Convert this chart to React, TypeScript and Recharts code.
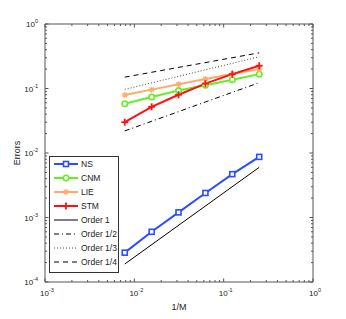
import { LineChart, Line, XAxis, YAxis } from 'recharts';

// 1/M values
const invM = [1 / 128, 1 / 64, 1 / 32, 1 / 16, 1 / 8, 1 / 4];

const nsErr = [0.000285, 0.0006, 0.0012, 0.0024, 0.0047, 0.0087];
const cnmErr = [0.058, 0.074, 0.093, 0.112, 0.137, 0.167];
const lieErr = [0.079, 0.096, 0.116, 0.14, 0.168, 0.2];
const stmErr = [0.03, 0.052, 0.08, 0.119, 0.167, 0.225];

// reference slopes, only end points
const order1 = [0.00019, 0.006];
const orderHalf = [0.022, 0.123];
const orderThird = [0.097, 0.31];
const orderQuarter = [0.15, 0.357];

const decadesX = [0.001, 0.01, 0.1, 1];
const decadesY = [0.0001, 0.001, 0.01, 0.1, 1];

const minorTicks = (decades: number[]) => {
  const out: number[] = [];
  decades.forEach((d, i) => {
    if (i === decades.length - 1) {
      out.push(d);
      return;
    }
    for (let k = 1; k < 10; k++) out.push(d * k);
  });
  return out;
};

const xTicks = minorTicks(decadesX);
const yTicks = minorTicks(decadesY);

const last = invM.length - 1;
const data = invM.map((x, i) => ({
  x,
  ns: nsErr[i],
  cnm: cnmErr[i],
  lie: lieErr[i],
  stm: stmErr[i],
  o1: i === 0 ? order1[0] : i === last ? order1[1] : null,
  o2: i === 0 ? orderHalf[0] : i === last ? orderHalf[1] : null,
  o3: i === 0 ? orderThird[0] : i === last ? orderThird[1] : null,
  o4: i === 0 ? orderQuarter[0] : i === last ? orderQuarter[1] : null,
}));

const COLORS = {
  ns: '#2b4cff',
  cnm: '#66ee22',
  lie: '#ffaa66',
  stm: '#ff1111',
};

const FONT = '"Liberation Sans", Arial, sans-serif';
const AXIS = '#555';

const isMajor = (v: number) => Math.abs(Math.log10(v) - Math.round(Math.log10(v))) < 1e-6;

const expLabel = (v: number) => Math.round(Math.log10(v));

const PowLabel = ({ x, y, v, anchor }: { x: number; y: number; v: number; anchor: 'middle' | 'end' }) => (
  <text x={x} y={y} textAnchor={anchor} fontFamily={FONT} fontSize={8} fill="#222">
    10
    <tspan dy={-4} fontSize={5.5}>
      {expLabel(v)}
    </tspan>
  </text>
);

const tickLen = (v: number) => (isMajor(v) ? 3.5 : 2);

const BottomTick = (props: any) => {
  const { x, payload } = props;
  const y = 282;
  const v = payload.value;
  return (
    <g>
      <line x1={x} y1={y} x2={x} y2={y - tickLen(v)} stroke={AXIS} />
      {isMajor(v) && <PowLabel x={x + 2} y={y + 14} v={v} anchor="middle" />}
    </g>
  );
};

const TopTick = (props: any) => {
  const { x, payload } = props;
  const y = 24;
  const v = payload.value;
  return <line x1={x} y1={y} x2={x} y2={y + tickLen(v)} stroke={AXIS} />;
};

const LeftTick = (props: any) => {
  const { y, payload } = props;
  const x = 45;
  const v = payload.value;
  return (
    <g>
      <line x1={x} y1={y} x2={x + tickLen(v)} y2={y} stroke={AXIS} />
      {isMajor(v) && <PowLabel x={x - 7} y={y + 3} v={v} anchor="end" />}
    </g>
  );
};

const RightTick = (props: any) => {
  const { y, payload } = props;
  const x = 313;
  const v = payload.value;
  return <line x1={x} y1={y} x2={x - tickLen(v)} y2={y} stroke={AXIS} />;
};

const SquareDot = (props: any) => {
  const { cx, cy, index } = props;
  if (cx == null || cy == null) return <g key={`s${index}`} />;
  return (
    <rect key={`s${index}`} x={cx - 2.5} y={cy - 2.5} width={5} height={5} fill="#fff" stroke={COLORS.ns} strokeWidth={1.6} />
  );
};

const CircleDot = (props: any) => {
  const { cx, cy, index } = props;
  if (cx == null || cy == null) return <g key={`c${index}`} />;
  return <circle key={`c${index}`} cx={cx} cy={cy} r={2.7} fill="#fff" stroke={COLORS.cnm} strokeWidth={1.6} />;
};

const StarDot = (props: any) => {
  const { cx, cy, index } = props;
  if (cx == null || cy == null) return <g key={`a${index}`} />;
  const r = 3;
  return (
    <g key={`a${index}`} stroke={COLORS.lie} strokeWidth={1.2}>
      <line x1={cx - r} y1={cy} x2={cx + r} y2={cy} />
      <line x1={cx} y1={cy - r} x2={cx} y2={cy + r} />
      <line x1={cx - r * 0.7} y1={cy - r * 0.7} x2={cx + r * 0.7} y2={cy + r * 0.7} />
      <line x1={cx - r * 0.7} y1={cy + r * 0.7} x2={cx + r * 0.7} y2={cy - r * 0.7} />
    </g>
  );
};

const PlusDot = (props: any) => {
  const { cx, cy, index } = props;
  if (cx == null || cy == null) return <g key={`p${index}`} />;
  const r = 3.5;
  return (
    <g key={`p${index}`} stroke={COLORS.stm} strokeWidth={1.8}>
      <line x1={cx - r} y1={cy} x2={cx + r} y2={cy} />
      <line x1={cx} y1={cy - r} x2={cx} y2={cy + r} />
    </g>
  );
};

const legendItems = [
  { name: 'NS', color: COLORS.ns, width: 2, dash: undefined, marker: 'square' },
  { name: 'CNM', color: COLORS.cnm, width: 2, dash: undefined, marker: 'circle' },
  { name: 'LIE', color: COLORS.lie, width: 2, dash: undefined, marker: 'star' },
  { name: 'STM', color: COLORS.stm, width: 2, dash: undefined, marker: 'plus' },
  { name: 'Order 1', color: '#000', width: 1, dash: undefined, marker: '' },
  { name: 'Order 1/2', color: '#000', width: 1, dash: '5 3 1 3', marker: '' },
  { name: 'Order 1/3', color: '#444', width: 1, dash: '1 2', marker: '' },
  { name: 'Order 1/4', color: '#000', width: 1, dash: '5 4', marker: '' },
];

const LegendBox = () => (
  <div
    style={{
      position: 'absolute',
      left: 49,
      top: 156,
      width: 70,
      height: 117,
      border: '1px solid #333',
      background: '#fff',
      boxSizing: 'border-box',
    }}
  >
    <svg width={70} height={117} style={{ position: 'absolute', left: -1, top: -1 }}>
      {legendItems.map((it, i) => {
        const cy = 8 + i * 14;
        const cx = 17;
        return (
          <g key={it.name}>
            <line x1={5} y1={cy} x2={29} y2={cy} stroke={it.color} strokeWidth={it.width} strokeDasharray={it.dash} />
            {it.marker === 'square' && <SquareDot cx={cx} cy={cy} index={i} />}
            {it.marker === 'circle' && <CircleDot cx={cx} cy={cy} index={i} />}
            {it.marker === 'star' && <StarDot cx={cx} cy={cy} index={i} />}
            {it.marker === 'plus' && <PlusDot cx={cx} cy={cy} index={i} />}
            <text x={32} y={cy + 3} fontFamily={FONT} fontSize={8.5} fill="#222">
              {it.name}
            </text>
          </g>
        );
      })}
    </svg>
  </div>
);

export default function App() {
  return (
    <div style={{ position: 'absolute', left: 0, top: 0, width: 346, height: 319, background: '#fff' }}>
      <LineChart width={346} height={319} data={data} margin={{ top: 23, right: 32, bottom: 36, left: 44 }}>
        <XAxis
          dataKey="x"
          type="number"
          scale="log"
          domain={[0.001, 1]}
          allowDataOverflow
          ticks={xTicks}
          interval={0}
          height={1}
          tickSize={0}
          tickMargin={0}
          tick={BottomTick}
          stroke={AXIS}
        />
        <XAxis
          xAxisId="top"
          orientation="top"
          dataKey="x"
          type="number"
          scale="log"
          domain={[0.001, 1]}
          allowDataOverflow
          ticks={xTicks}
          interval={0}
          height={1}
          tickSize={0}
          tickMargin={0}
          tick={TopTick}
          stroke={AXIS}
        />
        <YAxis
          type="number"
          scale="log"
          domain={[0.0001, 1]}
          allowDataOverflow
          ticks={yTicks}
          interval={0}
          width={1}
          tickSize={0}
          tickMargin={0}
          tick={LeftTick}
          stroke={AXIS}
        />
        <YAxis
          yAxisId="right"
          orientation="right"
          type="number"
          scale="log"
          domain={[0.0001, 1]}
          allowDataOverflow
          ticks={yTicks}
          interval={0}
          width={1}
          tickSize={0}
          tickMargin={0}
          tick={RightTick}
          stroke={AXIS}
        />
        <Line dataKey="o1" stroke="#000" strokeWidth={1} dot={false} connectNulls isAnimationActive={false} />
        <Line dataKey="o2" stroke="#000" strokeWidth={1} strokeDasharray="5 3 1 3" dot={false} connectNulls isAnimationActive={false} />
        <Line dataKey="o3" stroke="#444" strokeWidth={1} strokeDasharray="1 2" dot={false} connectNulls isAnimationActive={false} />
        <Line dataKey="o4" stroke="#000" strokeWidth={1} strokeDasharray="5 4" dot={false} connectNulls isAnimationActive={false} />
        <Line dataKey="ns" stroke={COLORS.ns} strokeWidth={2} dot={SquareDot} isAnimationActive={false} />
        <Line dataKey="cnm" stroke={COLORS.cnm} strokeWidth={2} dot={CircleDot} isAnimationActive={false} />
        <Line dataKey="lie" stroke={COLORS.lie} strokeWidth={2} dot={StarDot} isAnimationActive={false} />
        <Line dataKey="stm" stroke={COLORS.stm} strokeWidth={2} dot={PlusDot} isAnimationActive={false} />
        <text x={179} y={310} textAnchor="middle" fontFamily={FONT} fontSize={9} fill="#222">
          1/M
        </text>
        <text
          x={20}
          y={153}
          textAnchor="middle"
          fontFamily={FONT}
          fontSize={9}
          fill="#222"
          transform="rotate(-90 20 153)"
        >
          Errors
        </text>
      </LineChart>
      <LegendBox />
    </div>
  );
}
